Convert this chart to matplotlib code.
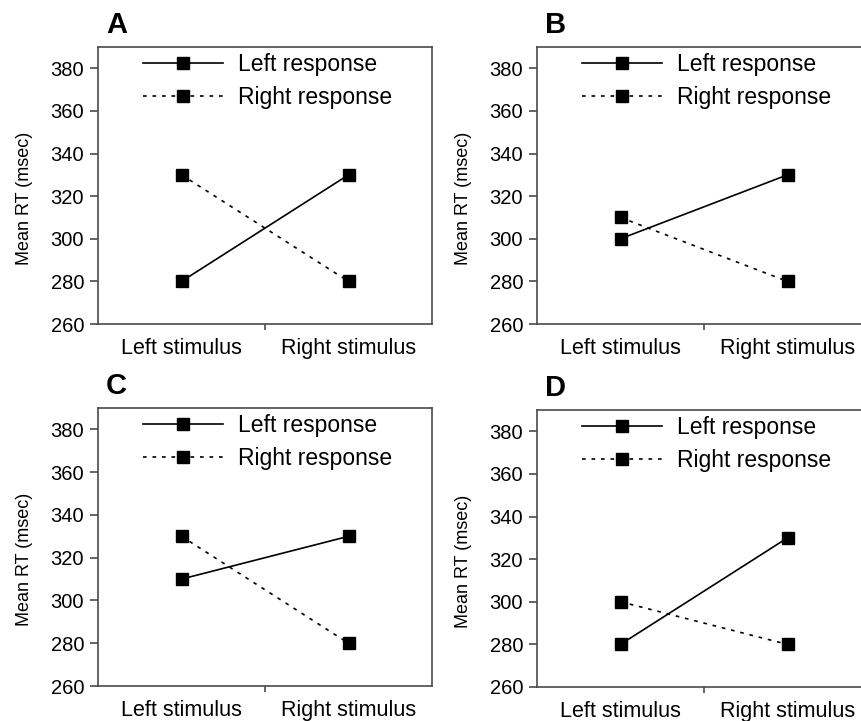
import matplotlib
matplotlib.use("Agg")
import matplotlib.pyplot as plt

plt.rcParams['font.family'] = ['Liberation Sans', 'DejaVu Sans']

categories = ["Left stimulus", "Right stimulus"]
panel_labels = ["A", "B", "C", "D"]
left_response = {
    "A": [280, 330],
    "B": [300, 330],
    "C": [310, 330],
    "D": [280, 330],
}
right_response = {
    "A": [330, 280],
    "B": [310, 280],
    "C": [330, 280],
    "D": [300, 280],
}
yticks = [260, 280, 300, 320, 340, 360, 380]
series_names = ["Left response", "Right response"]

W, H = 861, 721
fig = plt.figure(figsize=(W / 100, H / 100), dpi=100)

# axes boxes in pixels: left, top, width, height
boxes = {
    "A": (98, 47, 334, 277),
    "B": (537, 47, 334, 277),
    "C": (98, 408, 334, 278),
    "D": (537, 410, 334, 277),
}
spine_col = "#4a4a4a"

for lab in panel_labels:
    l, t, w, h = boxes[lab]
    ax = fig.add_axes([l / W, 1 - (t + h) / H, w / W, h / H])
    x = list(range(len(categories)))
    ax.plot(x, left_response[lab], color="black", lw=1.2, ls="-",
            marker="s", ms=9, mfc="black", mec="black", label=series_names[0])
    ax.plot(x, right_response[lab], color="black", lw=1.2, ls=(0, (2.2, 3.5)),
            marker="s", ms=9, mfc="black", mec="black", label=series_names[1])
    ax.set_xlim(-0.5, 1.5)
    ax.set_ylim(260, 390)
    ax.set_yticks(yticks)
    ax.set_xticks(x)
    ax.set_xticklabels(categories, fontsize=15.5)
    ax.set_xticks([0.5], minor=True)
    ax.tick_params(axis="x", which="major", length=0, pad=10)
    ax.tick_params(axis="x", which="minor", length=4, width=1.2, color=spine_col, direction="out")
    ax.tick_params(axis="y", which="major", length=6, width=1.2, color=spine_col,
                   labelsize=14.5, pad=4, direction="out")
    for s in ax.spines.values():
        s.set_color(spine_col)
        s.set_linewidth(1.2)
    ax.set_ylabel("Mean RT (msec)", fontsize=13)
    ax.yaxis.set_label_coords(-0.195, 0.455)
    ax.legend(loc="upper left", bbox_to_anchor=(0.135, 0.98), frameon=False,
              fontsize=16.5, handlelength=3.5, handletextpad=0.65, labelspacing=0.45,
              borderpad=0, borderaxespad=0, numpoints=1)
    fig.text((l + 8) / W, 1 - (t - 22) / H, lab, fontsize=21, fontweight="bold",
             ha="left", va="center")

fig.savefig("out.png", dpi=100)
